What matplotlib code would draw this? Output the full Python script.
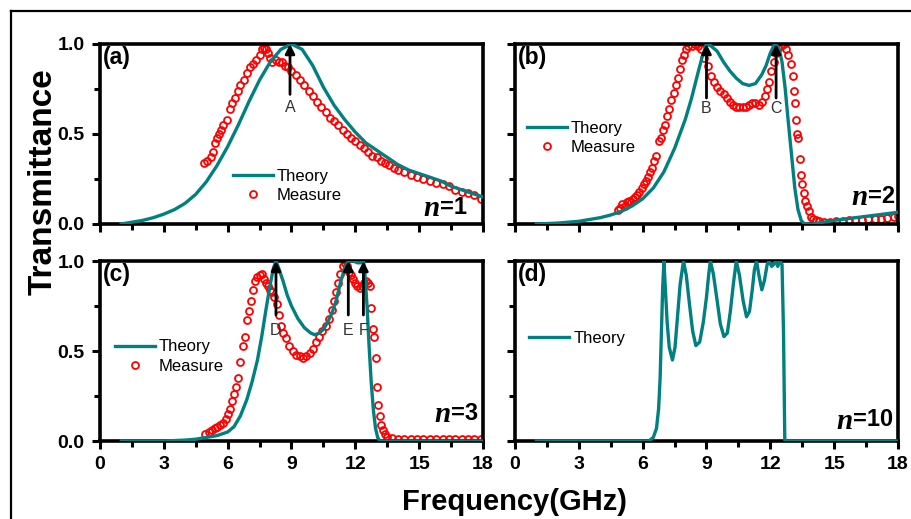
import matplotlib
matplotlib.use("Agg")
import matplotlib.pyplot as plt
from matplotlib.lines import Line2D
from matplotlib.ticker import MultipleLocator

plt.rcParams['font.family'] = ['Liberation Sans', 'DejaVu Sans']

# ---------------- data ----------------
# (a) n=1
theory_a_x = [1.0, 1.5, 2.0, 2.5, 3.0, 3.5, 4.0, 4.5, 5.0, 5.5, 6.0, 6.5, 7.0, 7.5, 8.0, 8.5, 9.0,
              9.5, 10.0, 10.5, 11.0, 11.5, 12.0, 12.5, 13.0, 13.5, 14.0, 14.5, 15.0, 15.5, 16.0,
              16.5, 17.0, 17.5, 18.0]
theory_a_y = [0.0, 0.01, 0.02, 0.035, 0.055, 0.08, 0.115, 0.165, 0.235, 0.325, 0.43, 0.55, 0.68,
              0.80, 0.90, 0.97, 1.0, 0.97, 0.88, 0.76, 0.66, 0.58, 0.51, 0.45, 0.41, 0.37, 0.33,
              0.30, 0.28, 0.26, 0.24, 0.21, 0.19, 0.17, 0.15]
measure_a_x = [4.9, 5.05, 5.2, 5.3, 5.4, 5.5, 5.6, 5.7, 5.8, 5.95, 6.1, 6.2, 6.35, 6.5, 6.6, 6.75,
               6.9, 7.05, 7.2, 7.35, 7.5, 7.6, 7.7, 7.8, 7.9, 8.0, 8.1, 8.25, 8.4, 8.55, 8.7, 8.85,
               9.0, 9.2, 9.4, 9.6, 9.8, 10.0, 10.2, 10.4, 10.6, 10.8, 11.0, 11.2, 11.4, 11.6, 11.8,
               12.0, 12.2, 12.4, 12.6, 12.8, 13.0, 13.2, 13.4, 13.6, 13.8, 14.0, 14.3, 14.6, 14.9,
               15.2, 15.5, 15.8, 16.1, 16.4, 16.7, 17.0, 17.3, 17.6, 17.9]
measure_a_y = [0.34, 0.35, 0.37, 0.40, 0.45, 0.48, 0.50, 0.52, 0.55, 0.58, 0.64, 0.67, 0.70, 0.74,
               0.77, 0.80, 0.84, 0.87, 0.89, 0.91, 0.94, 0.97, 0.98, 0.97, 0.95, 0.92, 0.90, 0.91,
               0.90, 0.90, 0.88, 0.87, 0.85, 0.83, 0.80, 0.77, 0.74, 0.71, 0.68, 0.65, 0.62, 0.59,
               0.57, 0.55, 0.52, 0.50, 0.48, 0.46, 0.44, 0.42, 0.40, 0.38, 0.37, 0.35, 0.34, 0.33,
               0.31, 0.30, 0.29, 0.27, 0.26, 0.25, 0.24, 0.23, 0.22, 0.21, 0.19, 0.18, 0.17, 0.16,
               0.14]

# (b) n=2
theory_b_x = [1.0, 2.0, 3.0, 4.0, 4.5, 5.0, 5.5, 6.0, 6.5, 7.0, 7.5, 8.0, 8.3, 8.6, 8.8, 9.0, 9.2,
              9.5, 9.8, 10.1, 10.4, 10.7, 11.0, 11.3, 11.6, 11.8, 12.0, 12.2, 12.4, 12.55, 12.7,
              12.85, 13.0, 13.15, 13.3, 13.45, 13.6, 14.0, 14.5, 15.0, 16.0, 17.0, 18.0]
theory_b_y = [0.0, 0.005, 0.015, 0.035, 0.05, 0.07, 0.10, 0.14, 0.20, 0.29, 0.42, 0.58, 0.70,
              0.84, 0.93, 1.0, 0.99, 0.96, 0.90, 0.85, 0.81, 0.78, 0.77, 0.78, 0.83, 0.88, 0.95,
              1.0, 0.98, 0.90, 0.75, 0.56, 0.38, 0.20, 0.08, 0.02, 0.0, 0.0, 0.01, 0.02, 0.035,
              0.05, 0.065]
measure_b_x = [4.85, 4.95, 5.05, 5.15, 5.25, 5.35, 5.45, 5.55, 5.65, 5.75, 5.85, 5.95, 6.05, 6.15,
               6.25, 6.35, 6.45, 6.55, 6.65, 6.75, 6.85, 6.95, 7.05, 7.15, 7.25, 7.35, 7.45, 7.55,
               7.65, 7.75, 7.85, 7.95, 8.05, 8.15, 8.3, 8.45, 8.6, 8.75, 8.9, 9.05, 9.2, 9.35, 9.5,
               9.65, 9.8, 9.95, 10.1, 10.25, 10.4, 10.55, 10.7, 10.85, 11.0, 11.15, 11.3, 11.45,
               11.6, 11.75, 11.85, 11.95, 12.05, 12.15, 12.25, 12.35, 12.5, 12.65, 12.75, 12.85,
               12.95, 13.05, 13.12, 13.18, 13.22, 13.27, 13.32, 13.38, 13.45, 13.5, 13.56, 13.62,
               13.7, 13.8, 13.9, 14.0, 14.15, 14.3, 14.5, 14.8, 15.1, 15.4, 15.7, 16.0, 16.3,
               16.6, 16.9, 17.2, 17.5, 17.8, 18.0]
measure_b_y = [0.08, 0.09, 0.11, 0.10, 0.12, 0.13, 0.12, 0.14, 0.15, 0.16, 0.18, 0.20, 0.22, 0.24,
               0.26, 0.29, 0.31, 0.35, 0.38, 0.46, 0.48, 0.52, 0.55, 0.60, 0.64, 0.69, 0.73, 0.77,
               0.81, 0.86, 0.91, 0.94, 0.97, 0.99, 0.99, 1.0, 0.99, 0.97, 0.92, 0.88, 0.82, 0.79,
               0.76, 0.74, 0.72, 0.70, 0.68, 0.66, 0.65, 0.65, 0.65, 0.65, 0.66, 0.67, 0.67, 0.66,
               0.68, 0.71, 0.75, 0.79, 0.85, 0.90, 0.95, 0.98, 0.99, 1.0, 0.97, 0.94, 0.89, 0.82,
               0.74, 0.67, 0.58, 0.50, 0.48, 0.36, 0.27, 0.22, 0.17, 0.13, 0.10, 0.07, 0.04, 0.03,
               0.02, 0.015, 0.01, 0.01, 0.015, 0.015, 0.02, 0.02, 0.02, 0.025, 0.03, 0.03, 0.035,
               0.04, 0.045]

# (c) n=3
theory_c_x = [1.0, 3.0, 4.0, 4.5, 5.0, 5.5, 6.0, 6.3, 6.6, 6.9, 7.15, 7.4, 7.6, 7.8, 8.0, 8.15,
              8.27, 8.4, 8.6, 8.8, 9.0, 9.3, 9.6, 9.9, 10.1, 10.3, 10.5, 10.7, 10.9, 11.1, 11.3,
              11.5, 11.67, 11.9, 12.1, 12.25, 12.38, 12.45, 12.55, 12.65, 12.75, 12.85, 12.95,
              13.05, 13.15, 14.0, 18.0]
theory_c_y = [0.0, 0.0, 0.005, 0.01, 0.02, 0.03, 0.05, 0.08, 0.14, 0.23, 0.33, 0.45, 0.58, 0.73,
              0.87, 0.96, 1.0, 0.96, 0.89, 0.81, 0.75, 0.68, 0.63, 0.60, 0.59, 0.60, 0.62, 0.66,
              0.71, 0.78, 0.88, 0.96, 1.0, 1.0, 0.99, 0.99, 1.0, 0.93, 0.75, 0.52, 0.32, 0.17,
              0.07, 0.02, 0.0, 0.0, 0.0]
measure_c_x = [4.95, 5.1, 5.25, 5.4, 5.5, 5.65, 5.8, 5.9, 6.0, 6.1, 6.2, 6.3, 6.4, 6.5, 6.6, 6.7,
               6.8, 6.9, 7.0, 7.1, 7.2, 7.3, 7.4, 7.5, 7.6, 7.7, 7.8, 7.9, 8.0, 8.1, 8.2, 8.3, 8.4,
               8.5, 8.6, 8.75, 8.9, 9.05, 9.2, 9.4, 9.55, 9.7, 9.85, 10.0, 10.15, 10.3, 10.45,
               10.6, 10.75, 10.9, 11.0, 11.1, 11.2, 11.3, 11.4, 11.5, 11.6, 11.7, 11.8, 11.9, 12.0,
               12.1, 12.2, 12.3, 12.4, 12.5, 12.6, 12.7, 12.75, 12.82, 12.88, 12.95, 13.02, 13.08,
               13.15, 13.22, 13.3, 13.38, 13.5, 13.7, 14.0, 14.3, 14.6, 14.9, 15.2, 15.5, 15.8,
               16.1, 16.4, 16.7, 17.0, 17.3, 17.6, 17.9]
measure_c_y = [0.04, 0.05, 0.06, 0.07, 0.08, 0.09, 0.10, 0.12, 0.15, 0.18, 0.22, 0.26, 0.30, 0.35,
               0.44, 0.53, 0.58, 0.67, 0.72, 0.78, 0.84, 0.89, 0.91, 0.92, 0.93, 0.90, 0.88, 0.86,
               0.84, 0.83, 0.80, 0.76, 0.70, 0.64, 0.60, 0.57, 0.53, 0.50, 0.48, 0.47, 0.46, 0.47,
               0.49, 0.51, 0.55, 0.58, 0.61, 0.64, 0.68, 0.73, 0.78, 0.83, 0.88, 0.93, 0.97, 0.99,
               0.97, 0.94, 0.92, 0.90, 0.88, 0.86, 0.85, 0.86, 0.88, 0.89, 0.88, 0.86, 0.74, 0.62,
               0.58, 0.46, 0.30, 0.20, 0.14, 0.09, 0.06, 0.04, 0.02, 0.015, 0.01, 0.01, 0.01, 0.01,
               0.01, 0.01, 0.01, 0.01, 0.01, 0.01, 0.01, 0.01, 0.01, 0.01]

# (d) n=10
theory_d_x = [1.0, 6.3, 6.5, 6.65, 6.75, 6.82, 6.88, 6.94, 7.0, 7.06, 7.15, 7.25, 7.4, 7.52, 7.63,
              7.76, 7.92, 8.05, 8.2, 8.35, 8.5, 8.68, 8.85, 9.0, 9.1, 9.18, 9.32, 9.5, 9.65,
              9.82, 9.98, 10.12, 10.27, 10.4, 10.55, 10.72, 10.88, 11.02, 11.15, 11.25, 11.35,
              11.48, 11.6, 11.72, 11.85, 11.95, 12.06, 12.15, 12.25, 12.35, 12.45, 12.55, 12.62,
              12.68, 18.0]
theory_d_y = [0.0, 0.0, 0.02, 0.07, 0.18, 0.35, 0.60, 0.85, 1.0, 0.86, 0.66, 0.52, 0.45, 0.52,
              0.68, 0.87, 1.0, 0.92, 0.76, 0.61, 0.53, 0.55, 0.66, 0.80, 0.92, 1.0, 0.93, 0.78,
              0.65, 0.58, 0.60, 0.72, 0.88, 1.0, 0.92, 0.78, 0.69, 0.72, 0.84, 0.95, 1.0, 0.91,
              0.84, 0.89, 0.98, 1.0, 0.97, 0.98, 1.0, 0.97, 1.0, 0.98, 0.60, 0.0, 0.0]

x_ticks = [0, 3, 6, 9, 12, 15, 18]
y_ticks = [0.0, 0.5, 1.0]
y_ticklabels = ["0.0", "0.5", "1.0"]

panel_labels = ["(a)", "(b)", "(c)", "(d)"]
n_values = ["1", "2", "3", "10"]
arrows = {0: [(8.93, "A")], 1: [(9.0, "B"), (12.27, "C")],
          2: [(8.27, "D"), (11.67, "E"), (12.38, "F")], 3: []}

TEAL = "#008080"
RED = "#ff0000"

W, H = 912, 519
fig = plt.figure(figsize=(W / 100, H / 100), dpi=100)


def fx(px):
    return px / W


def fy(py):
    return 1 - py / H


boxes = [(100, 483, 44, 224), (515, 898, 44, 224), (100, 483, 261, 441), (515, 898, 261, 441)]
axes = []
for (l, r, t, b) in boxes:
    ax = fig.add_axes([fx(l), fy(b), fx(r) - fx(l), fy(t) - fy(b)])
    axes.append(ax)

theory = [(theory_a_x, theory_a_y), (theory_b_x, theory_b_y), (theory_c_x, theory_c_y),
          (theory_d_x, theory_d_y)]
measure = [(measure_a_x, measure_a_y), (measure_b_x, measure_b_y), (measure_c_x, measure_c_y), None]

legend_pos = [(0.347, 0.211), (0.031, 0.48), (0.039, 0.469), (0.037, 0.572)]
n_pos = [(17.25, 0.094), (17.86, 0.155), (17.76, 0.155), (17.76, 0.117)]
arrow_base = [0.72, 0.70, 0.70, 0.70]
label_y = [0.645, 0.64, 0.615, 0.6]

for i, ax in enumerate(axes):
    tx, ty = theory[i]
    ax.plot(tx, ty, color=TEAL, lw=2.4, label="Theory", zorder=3, solid_joinstyle='round')
    if measure[i] is not None:
        mx, my = measure[i]
        ax.plot(mx, my, ls='none', marker='o', ms=5, mfc='none', mec=RED, mew=1.3,
                label="Measure", zorder=2)
    ax.set_xlim(0, 18)
    ax.set_ylim(0, 1.0)
    ax.xaxis.set_minor_locator(MultipleLocator(1.5))
    ax.yaxis.set_minor_locator(MultipleLocator(0.25))
    ax.set_xticks(x_ticks)
    ax.set_yticks(y_ticks)
    ax.tick_params(which='major', direction='out', length=6, width=2.2, pad=5,
                   labelsize=14)
    ax.tick_params(which='minor', direction='out', length=4.5, width=2.2)
    for s in ax.spines.values():
        s.set_linewidth(2.6)
    if i in (0, 2):
        ax.set_yticklabels(y_ticklabels, fontweight='bold')
    else:
        ax.set_yticklabels([])
    if i in (2, 3):
        ax.set_xticklabels([str(v) for v in x_ticks], fontweight='bold')
    else:
        ax.set_xticklabels([])

    ax.text(0.008, 0.99, panel_labels[i], transform=ax.transAxes, ha='left', va='top',
            fontsize=16.5, fontweight='bold')

    lx, ly = legend_pos[i]
    ax.legend(loc='center left', bbox_to_anchor=(lx, ly), frameon=False, fontsize=12,
              handlelength=2.4, handletextpad=0.25, labelspacing=0.25, borderpad=0,
              borderaxespad=0)

    nx, ny = n_pos[i]
    t1 = ax.text(nx, ny, "=" + n_values[i], ha='right', va='center', fontsize=17,
                 fontweight='bold', zorder=5)
    ax.annotate("n", xy=(0, 0.42), xycoords=t1, ha='right', va='center', fontsize=21,
                family='Liberation Serif', fontweight='bold', fontstyle='italic', zorder=5)

    for (axp, lab) in arrows[i]:
        ax.annotate('', xy=(axp, 1.0), xytext=(axp, arrow_base[i]),
                    arrowprops=dict(arrowstyle='-|>', color='black', lw=2.0,
                                    mutation_scale=14, shrinkA=0, shrinkB=0), zorder=6)
        ax.text(axp, label_y[i], lab, ha='center', va='center', fontsize=11.5, color='#333333')

fig.text(43 / W, fy(182), "Transmittance", rotation=90, ha='center', va='center',
         fontsize=24, fontweight='bold')
fig.text(515 / W, fy(510), "Frequency(GHz)", ha='center', va='baseline', fontsize=21,
         fontweight='bold')

# figure frame (left and top edges visible)
fig.add_artist(Line2D([fx(11), fx(11)], [0, fy(11)], transform=fig.transFigure, color='black', lw=1.6))
fig.add_artist(Line2D([fx(11), 1], [fy(11), fy(11)], transform=fig.transFigure, color='black', lw=1.6))

fig.savefig("out.png", dpi=100)
